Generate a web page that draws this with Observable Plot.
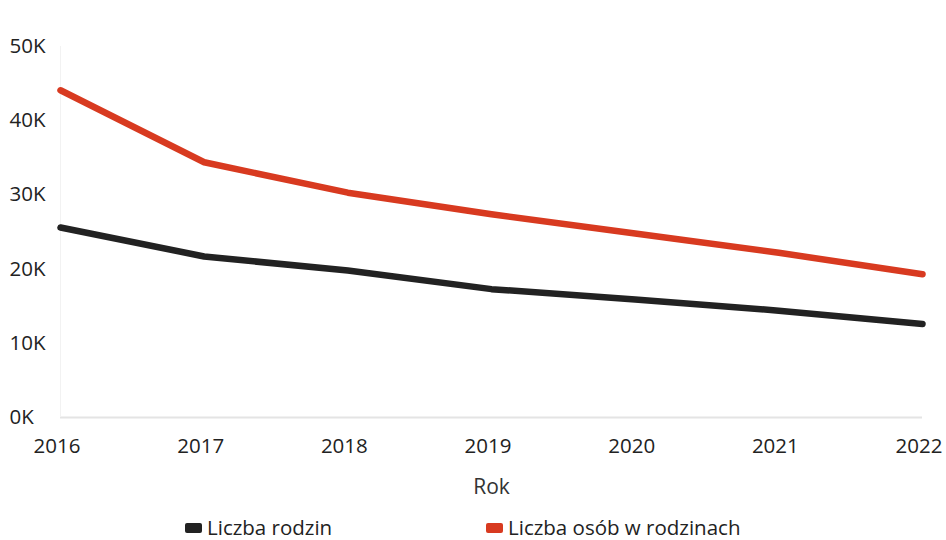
<!DOCTYPE html>
<html>
<head>
<meta charset="utf-8">
<script src="https://cdn.jsdelivr.net/npm/d3@7"></script>
<script src="https://cdn.jsdelivr.net/npm/@observablehq/plot@0.6"></script>
<style>
  html, body { margin: 0; padding: 0; background: #fff; }
  body { width: 946px; height: 540px; overflow: hidden; font-family: "Open Sans", "Noto Sans", sans-serif; color: #222; }
  #legend { position: absolute; top: 516px; left: 0; width: 946px; height: 23px; font-size: 20.5px; line-height: 23px; }
  .item { position: absolute; top: 0; display: flex; align-items: center; height: 23px; line-height: 23px; }
  .sw { width: 17px; height: 10px; border-radius: 2px; margin-right: 5px; }
</style>
</head>
<body>
<div id="chart"></div>
<div id="legend"></div>
<script>
const years = [2016, 2017, 2018, 2019, 2020, 2021, 2022];
const families = [25600, 21700, 19800, 17300, 15900, 14400, 12600];
const persons = [44100, 34400, 30300, 27400, 24800, 22200, 19300];
const seriesNames = ["Liczba rodzin", "Liczba osób w rodzinach"];
const seriesColors = ["#222222", "#d83a20"];
const yTicks = [0, 10000, 20000, 30000, 40000, 50000];

const data = [];
years.forEach((y, i) => {
  data.push({year: y, value: families[i], series: seriesNames[0]});
  data.push({year: y, value: persons[i], series: seriesNames[1]});
});

const plot = Plot.plot({
  width: 946,
  height: 505,
  marginTop: 46,
  marginBottom: 88,
  marginLeft: 60,
  marginRight: 24,
  style: {fontFamily: "'Open Sans', 'Noto Sans', sans-serif", fontSize: "20.5px", color: "#222", background: "#fff"},
  x: {domain: [2016, 2022]},
  y: {domain: [0, 50000]},
  color: {domain: seriesNames, range: seriesColors},
  marks: [
    Plot.ruleY([0], {stroke: "#e4e4e4", strokeWidth: 2}),
    Plot.ruleX([2016], {stroke: "#f2f2f2", strokeWidth: 1}),
    Plot.line(data, {x: "year", y: "value", z: "series", stroke: "series", strokeWidth: 6.5, curve: "linear", strokeLinejoin: "round"}),
    Plot.axisY({ticks: yTicks, tickSize: 0, tickPadding: 0, textAnchor: "start", dx: -51, tickFormat: d => (d / 1000) + "K", label: null, fill: "#222", fontSize: 20.5}),
    Plot.axisX({ticks: years, tickSize: 0, tickPadding: 21, tickFormat: d => String(d), dx: -3.5, label: null, fill: "#222", fontSize: 20.5}),
    Plot.text(["Rok"], {x: 2019, y: 0, text: d => d, fill: "#333", fontSize: 21, dy: 70})
  ]
});
document.getElementById("chart").appendChild(plot);

const legend = document.getElementById("legend");
const lefts = [185, 486];
seriesNames.forEach((n, i) => {
  const it = document.createElement("div");
  it.className = "item";
  it.style.left = lefts[i] + "px";
  const sw = document.createElement("span");
  sw.className = "sw";
  sw.style.background = seriesColors[i];
  const tx = document.createElement("span");
  tx.textContent = n;
  it.appendChild(sw);
  it.appendChild(tx);
  legend.appendChild(it);
});
</script>
</body>
</html>
